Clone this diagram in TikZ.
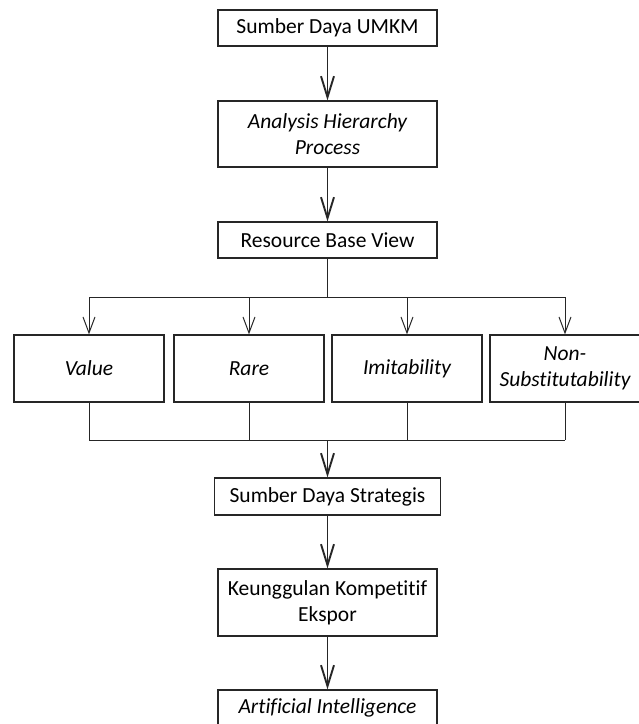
\documentclass[tikz,border=0pt]{standalone}
\usepackage{fontspec}
\setmainfont[Ligatures={NoCommon}]{Carlito}
\usetikzlibrary{arrows.meta}
\begin{document}
\begin{tikzpicture}[x=1pt,y=-1pt,
  box/.style={draw=black!85,line width=1.2pt,inner sep=0pt,align=center,
    font=\fontsize{21.5}{26}\selectfont},
  thickarrow/.style={draw=black!85,line width=1.9pt,-{Straight Barb[length=21pt,width=13pt]}},
  thinarrow/.style={draw=black!85,line width=1pt,-{Straight Barb[length=16pt,width=12pt]}},
  thinline/.style={draw=black!85,line width=1pt}]
\useasboundingbox[fill=white] (0,0) rectangle (639,724);
\node[box,minimum width=219pt,minimum height=36pt] (umkm) at (327.5,28) {Sumber Daya UMKM};
\node[box,minimum width=219pt,minimum height=66pt] (ahp) at (327.5,134) {\itshape Analysis Hierarchy\\\itshape Process};
\node[box,minimum width=219pt,minimum height=36pt] (rbv) at (327.5,240) {Resource Base View};
\node[box,minimum width=150pt,minimum height=67pt] (val) at (89,368.5) {\itshape Value};
\node[box,minimum width=150pt,minimum height=67pt] (rare) at (249,368.5) {\itshape Rare};
\node[box,minimum width=150pt,minimum height=67pt] (imi) at (407,368.5) {\itshape Imitability};
\node[box,minimum width=150pt,minimum height=67pt] (nons) at (565,368.5) {\itshape Non-\\\itshape Substitutability};
\node[box,minimum width=226pt,minimum height=37pt] (sds) at (327.5,496.5) {Sumber Daya Strategis};
\node[box,minimum width=219pt,minimum height=67pt] (kke) at (327.5,602.5) {Keunggulan Kompetitif\\Ekspor};
\node[box,minimum width=219pt,minimum height=36pt] (ai) at (327.5,708) {\itshape Artificial Intelligence};
\coordinate (split) at (327.5,297);
\coordinate (merge) at (327.5,440);
\draw[thickarrow] (umkm) -- (ahp);
\draw[thickarrow] (ahp) -- (rbv);
\draw[thinline] (rbv.south) -- (split);
\draw[thinline] (val.north |- split) -- (nons.north |- split);
\foreach \n in {val,rare,imi,nons} {
  \draw[thinarrow] (\n.north |- split) -- (\n.north);
  \draw[thinline] (\n.south) -- (\n.south |- merge);
}
\draw[thinline] (val.south |- merge) -- (nons.south |- merge);
\draw[thickarrow] (merge) -- (sds.north);
\draw[thickarrow] (sds) -- (kke);
\draw[thickarrow] (kke) -- (ai);
\end{tikzpicture}
\end{document}
